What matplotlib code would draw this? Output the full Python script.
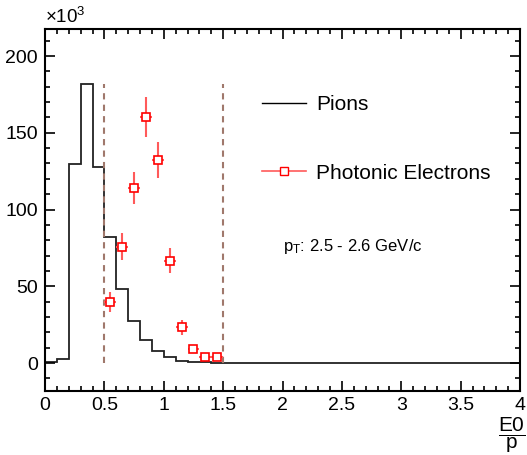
import numpy as np
import matplotlib
matplotlib.use("Agg")
import matplotlib.pyplot as plt
from matplotlib.lines import Line2D
from matplotlib.ticker import MultipleLocator

plt.rcParams['font.family'] = ['Liberation Sans', 'DejaVu Sans']
plt.rcParams['mathtext.fontset'] = 'custom'
plt.rcParams['mathtext.rm'] = 'Liberation Sans'
plt.rcParams['mathtext.it'] = 'Liberation Sans:italic'

# pion E0/p histogram, 0.1 wide bins from 0 to 4 (units of 10^3)
bin_edges = np.round(np.arange(0, 4.01, 0.1), 2)
pions = [0.6, 2.6, 129.8, 181.5, 127.9, 81.8, 48.4, 27.3, 15.2, 7.6,
         3.7, 1.5, 0.7, 0.4, 0.3, 0.2, 0.2, 0.1, 0.1, 0.1,
         0.1, 0.1, 0.1, 0.1, 0.1, 0.1, 0.1, 0.1, 0.1, 0.1,
         0.1, 0.1, 0.1, 0.1, 0.1, 0.1, 0.1, 0.1, 0.1, 0.1]

# photonic electrons
pe_x = [0.55, 0.65, 0.75, 0.85, 0.95, 1.05, 1.15, 1.25, 1.35, 1.45]
pe_y = [39.7, 75.8, 114.0, 160.2, 132.2, 66.6, 23.2, 9.1, 3.9, 3.9]
pe_err = [6.3, 8.7, 10.6, 12.8, 11.7, 8.2, 4.9, 2.4, 1.3, 1.3]

cut_lo, cut_hi = 0.5, 1.5

fig = plt.figure(figsize=(5.27, 4.55), dpi=100)
ax = fig.add_axes([45/527, 1-391/455, 475/527, 362/455])

ax.stairs(pions, bin_edges, color='#222222', lw=1.3)
ax.vlines([cut_lo, cut_hi], 0, max(pions), colors='#a0786c', lw=1.5,
          linestyles=(0, (3, 2.5)))
ax.errorbar(pe_x, pe_y, yerr=pe_err, xerr=0.05, fmt='none',
            ecolor='#ff5a5a', elinewidth=1.5, capsize=0)
ax.plot(pe_x, pe_y, ls='none', marker='s', ms=5.8, mfc='white',
        mec='#ff0000', mew=1.2)

ax.set_xlim(0, 4)
ax.set_ylim(-18.2, 217.6)
ax.xaxis.set_major_locator(MultipleLocator(0.5))
ax.xaxis.set_minor_locator(MultipleLocator(0.1))
ax.yaxis.set_major_locator(MultipleLocator(50))
ax.yaxis.set_minor_locator(MultipleLocator(10))
ax.set_xticks([0, 0.5, 1, 1.5, 2, 2.5, 3, 3.5, 4])
ax.set_xticklabels(['0', '0.5', '1', '1.5', '2', '2.5', '3', '3.5', '4'])
ax.tick_params(which='both', direction='in', top=True, right=True,
               labelsize=14, width=1.2)
ax.tick_params(which='major', length=7)
ax.tick_params(which='minor', length=3.5)
ax.tick_params(axis='x', pad=4)
ax.tick_params(axis='y', pad=5)
for s in ax.spines.values():
    s.set_linewidth(1.5)

handles = [Line2D([], [], color='black', lw=1),
           Line2D([], [], color='#ff5a5a', lw=1.2, marker='s', ms=6,
                  mfc='white', mec='#ff0000', mew=1)]
ax.legend(handles, ['Pions', 'Photonic Electrons'], frameon=False,
          fontsize=15, loc='upper left', bbox_to_anchor=(262/527, 1-95/455),
          bbox_transform=fig.transFigure, borderpad=0, handlelength=2.1,
          handletextpad=0.5, labelspacing=2.38, borderaxespad=0)

fig.text(283/527, 1-247/455, r'p$_{\mathrm{T}}$: 2.5 - 2.6 GeV/c',
         fontsize=12, va='center', ha='left')
fig.text(45/527, 1-23/455, r'$\times10^{3}$', fontsize=13.5, ha='left',
         va='baseline')
fig.text(512/527, 1-435/455, r'$\dfrac{\mathrm{E0}}{\mathrm{p}}$',
         fontsize=15, ha='center', va='center')

fig.savefig('out.png', dpi=100)
